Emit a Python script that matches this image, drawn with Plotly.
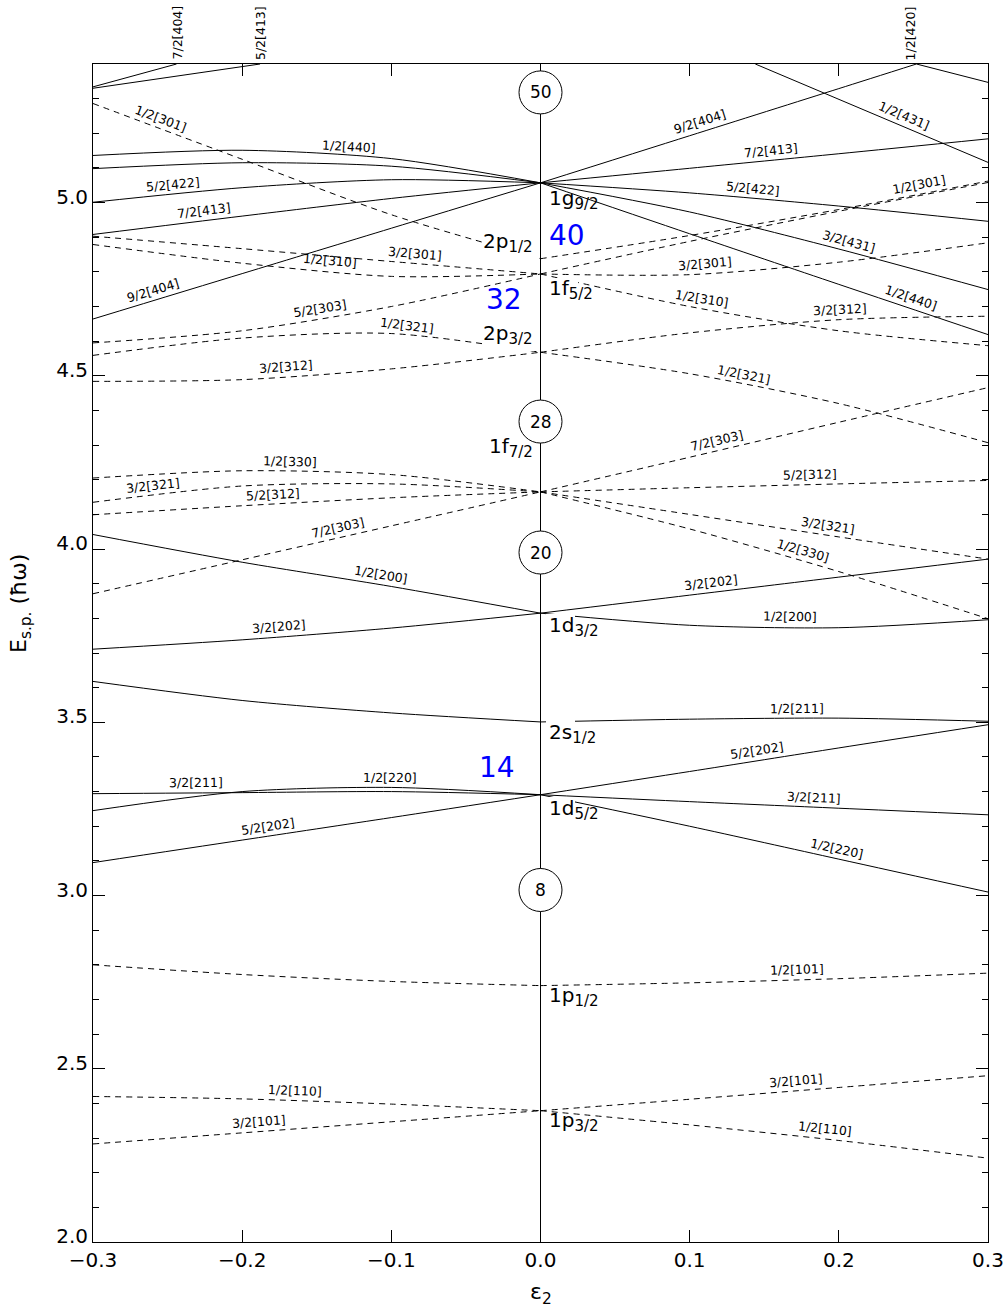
import numpy as np
import plotly.graph_objects as go

# ---------------------------------------------------------------
# Nilsson single-particle levels, N = 1..4, E_s.p. in units of hbar*omega
# ---------------------------------------------------------------
EPS_OBL = [-0.3, -0.2, -0.1, 0.0]   # oblate branch grid
EPS_PRO = [0.0, 0.1, 0.2, 0.3]      # prolate branch grid

# spherical energies at eps = 0
SPH_NAMES = ["1p3/2", "1p1/2", "1d5/2", "2s1/2", "1d3/2",
             "1f7/2", "2p3/2", "1f5/2", "2p1/2", "1g9/2"]
SPH_E = [2.379, 2.740, 3.291, 3.501, 3.815, 4.165, 4.568, 4.794, 4.838, 5.057]

# N = 1 (negative parity, dashed)
N1_OBL_NAMES = ["1/2[110]", "3/2[101]", ""]
N1_OBL_E = [[2.420, 2.413, 2.398, 2.379],
            [2.283, 2.315, 2.347, 2.379],
            [2.800, 2.772, 2.752, 2.740]]
N1_PRO_NAMES = ["3/2[101]", "1/2[110]", "1/2[101]"]
N1_PRO_E = [[2.379, 2.412, 2.446, 2.480],
            [2.379, 2.338, 2.293, 2.242],
            [2.740, 2.748, 2.760, 2.776]]

# N = 2 (positive parity, solid)
N2_OBL_NAMES = ["5/2[202]", "1/2[220]", "3/2[211]", "", "1/2[200]", "3/2[202]"]
N2_OBL_E = [[3.095, 3.160, 3.225, 3.291],
            [3.245, 3.300, 3.312, 3.291],
            [3.294, 3.297, 3.300, 3.291],
            [3.618, 3.563, 3.527, 3.501],
            [4.042, 3.962, 3.892, 3.815],
            [3.711, 3.738, 3.772, 3.815]]
N2_PRO_NAMES = ["5/2[202]", "3/2[211]", "1/2[220]", "1/2[211]", "3/2[202]", "1/2[200]"]
N2_PRO_E = [[3.291, 3.358, 3.426, 3.493],
            [3.291, 3.271, 3.252, 3.233],
            [3.291, 3.200, 3.105, 3.010],
            [3.501, 3.509, 3.512, 3.503],
            [3.815, 3.867, 3.919, 3.971],
            [3.815, 3.780, 3.773, 3.796]]

# N = 3 (negative parity, dashed)
N3_OBL_NAMES = ["1/2[330]", "3/2[321]", "5/2[312]", "7/2[303]", "3/2[312]",
                "1/2[321]", "5/2[303]", "1/2[310]", "3/2[301]", "1/2[301]"]
N3_OBL_E = [[4.205, 4.226, 4.215, 4.165],
            [4.135, 4.182, 4.188, 4.165],
            [4.099, 4.125, 4.148, 4.165],
            [3.871, 3.969, 4.067, 4.165],
            [4.484, 4.489, 4.520, 4.568],
            [4.559, 4.609, 4.622, 4.568],
            [4.595, 4.630, 4.700, 4.794],
            [4.879, 4.825, 4.787, 4.794],
            [4.903, 4.867, 4.830, 4.794],
            [5.286, 5.125, 4.965, 4.838]]
N3_PRO_NAMES = ["7/2[303]", "5/2[312]", "3/2[321]", "1/2[330]", "1/2[321]",
                "3/2[312]", "3/2[301]", "1/2[310]", "", "1/2[301]"]
N3_PRO_E = [[4.165, 4.265, 4.366, 4.466],
            [4.165, 4.177, 4.188, 4.198],
            [4.165, 4.100, 4.035, 3.971],
            [4.165, 4.058, 3.935, 3.799],
            [4.568, 4.506, 4.420, 4.307],
            [4.568, 4.624, 4.662, 4.672],
            [4.794, 4.792, 4.828, 4.884],
            [4.794, 4.700, 4.630, 4.587],
            [4.794, 4.888, 4.975, 5.058],
            [4.838, 4.905, 4.980, 5.062]]

# N = 4 (positive parity, solid)
N4_OBL_NAMES = ["9/2[404]", "7/2[413]", "5/2[422]", "", "1/2[440]"]
N4_OBL_E = [[4.664, 4.795, 4.926, 5.057],
            [4.908, 4.961, 5.012, 5.057],
            [5.001, 5.043, 5.066, 5.057],
            [5.098, 5.115, 5.105, 5.057],
            [5.136, 5.151, 5.127, 5.057]]
N4_PRO_NAMES = ["7/2[413]", "5/2[422]", "3/2[431]", "1/2[440]"]
N4_PRO_E = [[5.057, 5.099, 5.141, 5.184],
            [5.057, 5.028, 4.990, 4.946],
            [5.057, 4.973, 4.866, 4.749],
            [5.057, 4.910, 4.764, 4.619]]

# N = 4 levels leaving the frame at the top (own eps grids)
EXTRA_NAMES = ["9/2[404]", "7/2[404]", "5/2[413]", "1/2[431]", "1/2[420]"]
EXTRA_EPS = [[0.0, 0.1, 0.2, 0.252],
             [-0.3, -0.244],
             [-0.3, -0.188],
             [0.144, 0.3],
             [0.252, 0.3]]
EXTRA_E = [[5.057, 5.193, 5.329, 5.400],
           [5.334, 5.400],
           [5.330, 5.400],
           [5.400, 5.116],
           [5.400, 5.347]]

# magic numbers
GAP_NUMBERS = ["50", "28", "20", "8"]
GAP_E = [5.318, 4.368, 3.990, 3.016]
SUBSHELL_NUMBERS = ["40", "32", "14"]

# ---------------------------------------------------------------
# label placement (eps of the text centre on each branch)
# ---------------------------------------------------------------
N1_OBL_LX = [-0.165, -0.188, None]
N1_PRO_LX = [0.172, 0.190, 0.172]
N2_OBL_LX = [-0.182, -0.101, -0.231, None, -0.108, -0.175]
N2_PRO_LX = [0.146, 0.183, 0.197, 0.172, 0.115, 0.167]
N3_OBL_LX = [-0.168, -0.259, -0.179, -0.134, -0.170,
             -0.090, -0.147, -0.142, -0.085, -0.257]
N3_PRO_LX = [0.120, 0.181, 0.192, 0.174, 0.135,
             0.201, 0.111, 0.107, None, 0.255]
N4_OBL_LX = [-0.258, -0.225, -0.246, None, -0.129]
N4_PRO_LX = [0.155, 0.142, 0.205, 0.246]
EXTRA_LX = [0.109, "top", "top", 0.241, "top"]
EXTRA_TOP_X = [None, -0.244, -0.188, None, 0.248]

X0, X1 = -0.3, 0.3
Y0, Y1 = 2.0, 5.4
ML, MR, MT, MB = 93, 19, 64, 68
W, H = 1007, 1310
KX = (W - ML - MR) / (X1 - X0)   # px per unit eps
KY = (H - MT - MB) / (Y1 - Y0)   # px per unit E

FONT = "DejaVu Sans"
DASH = "6px,5px"

fig = go.Figure()
annotations = []


def branch(eps, ener, dashed):
    fig.add_trace(go.Scatter(
        x=eps, y=ener, mode="lines",
        line=dict(color="black", width=1, dash=DASH if dashed else "solid",
                  shape="spline", smoothing=0.8),
        hoverinfo="skip", showlegend=False))


def line_label(text, eps, ener, xc, dist=10):
    ex = np.asarray(eps, dtype=float)
    ey = np.asarray(ener, dtype=float)
    yc = float(np.interp(xc, ex, ey))
    h = 0.004
    s = (np.interp(xc + h, ex, ey) - np.interp(xc - h, ex, ey)) / (2 * h)
    theta = np.arctan(s * KY / KX)
    annotations.append(dict(
        x=xc, y=yc, xref="x", yref="y", text=text, showarrow=False,
        textangle=-np.degrees(theta),
        xshift=-dist * np.sin(theta), yshift=dist * np.cos(theta),
        font=dict(family=FONT, size=12.5, color="black"),
        xanchor="center", yanchor="middle"))


groups = [
    (EPS_OBL, N1_OBL_E, N1_OBL_NAMES, N1_OBL_LX, True),
    (EPS_PRO, N1_PRO_E, N1_PRO_NAMES, N1_PRO_LX, True),
    (EPS_OBL, N2_OBL_E, N2_OBL_NAMES, N2_OBL_LX, False),
    (EPS_PRO, N2_PRO_E, N2_PRO_NAMES, N2_PRO_LX, False),
    (EPS_OBL, N3_OBL_E, N3_OBL_NAMES, N3_OBL_LX, True),
    (EPS_PRO, N3_PRO_E, N3_PRO_NAMES, N3_PRO_LX, True),
    (EPS_OBL, N4_OBL_E, N4_OBL_NAMES, N4_OBL_LX, False),
    (EPS_PRO, N4_PRO_E, N4_PRO_NAMES, N4_PRO_LX, False),
]
for eps, levels, names, lxs, dashed in groups:
    for ener, name, lx in zip(levels, names, lxs):
        branch(eps, ener, dashed)
        if name and lx is not None:
            line_label(name, eps, ener, lx)

for eps, ener, name, lx, tx in zip(EXTRA_EPS, EXTRA_E, EXTRA_NAMES, EXTRA_LX, EXTRA_TOP_X):
    branch(eps, ener, False)
    if lx == "top":
        annotations.append(dict(
            x=tx, y=1, xref="x", yref="paper", text=name, showarrow=False,
            textangle=-90, yanchor="bottom", xanchor="center", yshift=2,
            font=dict(family=FONT, size=12.5, color="black")))
    else:
        line_label(name, eps, ener, lx)

# white patches that mask the branches right behind some spherical labels
# (label name, dx of left edge, dy of top edge below the level, width, height) in px
COVER = [("2p1/2", -54.5, -28.3, 51, 29),
         ("2p3/2", -54.5, -29.7, 51, 28),
         ("1f5/2", 7.5, 3.7, 30, 20),
         ("2s1/2", 5.5, -2.3, 29, 25),
         ("1d3/2", 5.5, 1.2, 29, 21),
         ("1d5/2", 5.5, 2.3, 29, 21)]
for name, dx, dy, bw, bh in COVER:
    e0 = SPH_E[SPH_NAMES.index(name)]
    annotations.append(dict(
        x=0, y=e0, xref="x", yref="y", text=" ", showarrow=False,
        xanchor="left", yanchor="top", xshift=dx, yshift=-dy,
        width=bw, height=bh, bgcolor="white", borderpad=0, borderwidth=0,
        font=dict(family=FONT, size=8, color="white")))

# spherical orbital labels: (offset in px below the level, side)
SPH_LABEL_DY = [10.3, 9.8, 14.0, 10.2, 12.7, -45.6, -18.7, 14.7, -17.0, 15.7]
SPH_LABEL_SIDE = ["r", "r", "r", "r", "r", "l", "l", "r", "l", "r"]
for name, e0, dy, side in zip(SPH_NAMES, SPH_E, SPH_LABEL_DY, SPH_LABEL_SIDE):
    main, sub = name[:2], name[2:]
    txt = f"{main}<sub><span style='font-size:15px'>{sub}</span></sub>"
    annotations.append(dict(
        x=(0.0045 if side == "r" else -0.0037), y=e0, xref="x", yref="y",
        text=txt, showarrow=False,
        xanchor="left" if side == "r" else "right", yanchor="middle",
        yshift=-dy - 1,
        font=dict(family=FONT, size=20, color="black")))

# magic-number circles on the eps = 0 axis
shapes = [dict(type="line", xref="x", yref="paper", x0=0, x1=0, y0=0, y1=1,
               line=dict(color="black", width=1), layer="below")]
R = 21.5
for num, e0 in zip(GAP_NUMBERS, GAP_E):
    shapes.append(dict(type="circle", xref="x", yref="y", xsizemode="pixel",
                       ysizemode="pixel", xanchor=0, yanchor=e0,
                       x0=-R, x1=R, y0=-R, y1=R, fillcolor="white",
                       line=dict(color="black", width=1), layer="above"))
    annotations.append(dict(x=0, y=e0, xref="x", yref="y", text=num, showarrow=False,
                            font=dict(family=FONT, size=17, color="black"),
                            xanchor="center", yanchor="middle"))

# sub-shell closures in blue
SUB_POS = [(0.0178, 4.905), (-0.0245, 4.720), (-0.0295, 3.369)]
for num, (xe, ye) in zip(SUBSHELL_NUMBERS, SUB_POS):
    annotations.append(dict(x=xe, y=ye, xref="x", yref="y", text=num, showarrow=False,
                            font=dict(family=FONT, size=28, color="#0000ff"),
                            xanchor="center", yanchor="middle"))

# axis titles
annotations.append(dict(x=(20 - ML) / (W - ML - MR), y=(H - MB - 604) / (H - MT - MB),
                        xref="paper", yref="paper",
                        text="E<sub>s.p.</sub> (ħω)", textangle=-90, showarrow=False,
                        font=dict(family=FONT, size=22, color="black"),
                        xanchor="center", yanchor="middle"))
annotations.append(dict(x=0.5, y=(H - MB - 1293) / (H - MT - MB),
                        xref="paper", yref="paper",
                        text="ε<sub>2</sub>", showarrow=False,
                        font=dict(family=FONT, size=22, color="black"),
                        xanchor="center", yanchor="middle"))

fig.update_layout(
    width=W, height=H, margin=dict(l=ML, r=MR, t=MT, b=MB, autoexpand=False),
    plot_bgcolor="white", paper_bgcolor="white",
    font=dict(family=FONT, color="black"),
    shapes=shapes, annotations=annotations, showlegend=False,
)
fig.update_xaxes(
    range=[X0, X1], tickvals=[-0.3, -0.2, -0.1, 0.0, 0.1, 0.2, 0.3],
    tickformat=".1f", ticks="inside", ticklen=12, tickcolor="black", tickwidth=1,
    showline=True, linecolor="black", linewidth=1, mirror="ticks", automargin=False,
    showgrid=False, zeroline=False, tickfont=dict(family=FONT, size=20, color="black"),
)
fig.update_yaxes(
    range=[Y0, Y1], tick0=2.0, dtick=0.5, tickformat=".1f",
    ticks="inside", ticklen=12, tickcolor="black", tickwidth=1,
    minor=dict(ticks="inside", ticklen=6, tick0=2.0, dtick=0.1,
               tickcolor="black", showgrid=False),
    showline=True, linecolor="black", linewidth=1, mirror="ticks", automargin=False,
    showgrid=False, zeroline=False, ticklabelshift=-6,
    tickfont=dict(family=FONT, size=20, color="black"),
)

fig.write_html("out.html")
